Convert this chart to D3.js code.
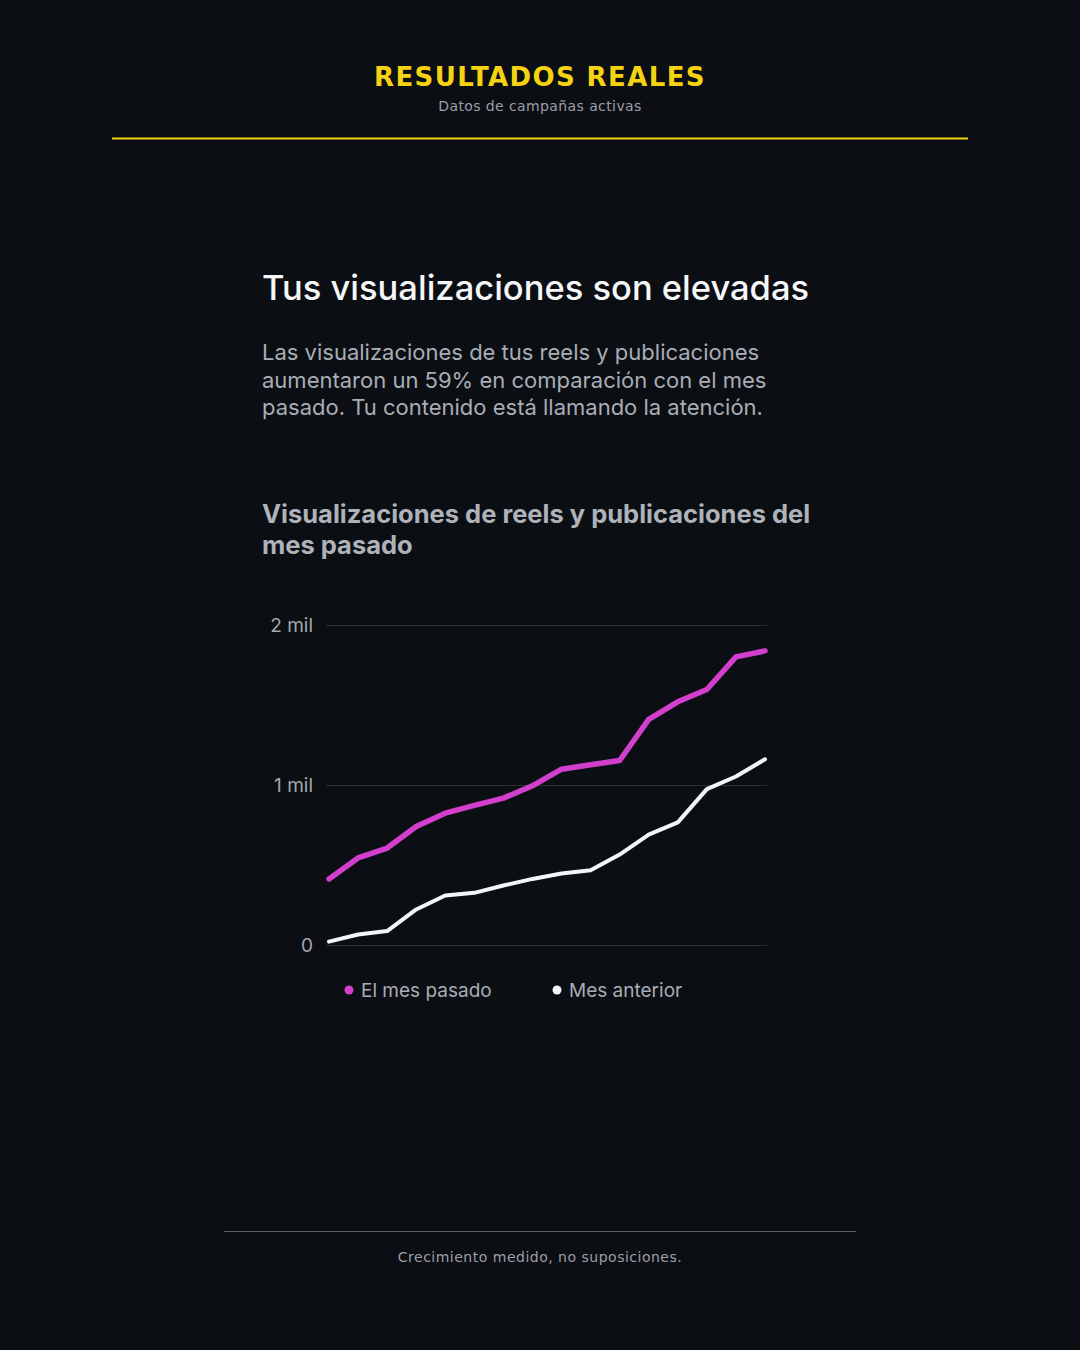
<!DOCTYPE html>
<html>
<head>
<meta charset="utf-8">
<script src="https://cdn.jsdelivr.net/npm/d3@7"></script>
<style>
  html, body { margin: 0; padding: 0; background: #0b0e13; }
  svg { display: block; }
</style>
</head>
<body>
<div id="chart"></div>
<script>
// data (views per day, last month vs previous month)
const days = d3.range(1, 17)
const lastMonth = [413, 544, 606, 741, 824, 873, 918, 995, 1099, 1126, 1153, 1410, 1520, 1597, 1801, 1838]
const prevMonth = [21, 66, 87, 222, 309, 326, 372, 413, 447, 467, 565, 690, 766, 974, 1053, 1161]
const yTicks = [0, 1000, 2000]
const yTickLabels = ["0", "1 mil", "2 mil"]
const seriesNames = ["El mes pasado", "Mes anterior"]
const seriesColors = ["#d23fcc", "#f4f5f7"]

const W = 1080, H = 1350
const sans = "Inter, Roboto, 'Noto Sans', sans-serif"

const svg = d3.select("#chart").append("svg")
  .attr("width", W)
  .attr("height", H)

svg.append("rect").attr("width", W).attr("height", H).attr("fill", "#0b0e13")

// header
svg.append("text")
  .attr("x", W / 2).attr("y", 86)
  .attr("text-anchor", "middle")
  .attr("font-family", "'DejaVu Sans', sans-serif")
  .attr("font-weight", "bold")
  .attr("font-size", 26)
  .attr("letter-spacing", 1.4)
  .attr("fill", "#f5d312")
  .text("RESULTADOS REALES")

svg.append("text")
  .attr("x", W / 2).attr("y", 111)
  .attr("text-anchor", "middle")
  .attr("font-family", "'DejaVu Sans', sans-serif")
  .attr("font-size", 14)
  .attr("letter-spacing", 0.4)
  .attr("fill", "#9b9fa7")
  .text("Datos de campañas activas")

svg.append("line")
  .attr("x1", 112).attr("x2", 968)
  .attr("y1", 138.5).attr("y2", 138.5)
  .attr("stroke", "#f5d312").attr("stroke-width", 2)

// card texts
svg.append("text")
  .attr("x", 262).attr("y", 300)
  .attr("font-family", sans)
  .attr("font-size", 34.5)
  .attr("font-weight", 500)
  .attr("fill", "#f6f7f9")
  .text("Tus visualizaciones son elevadas")

const para = [
  "Las visualizaciones de tus reels y publicaciones",
  "aumentaron un 59% en comparación con el mes",
  "pasado. Tu contenido está llamando la atención."
]
svg.append("g").selectAll("text")
  .data(para)
  .join("text")
  .attr("x", 262)
  .attr("y", (d, i) => 360 + i * 27.5)
  .attr("font-family", sans)
  .attr("font-size", 22)
  .attr("fill", "#a9adb5")
  .text(d => d)

const chartTitle = ["Visualizaciones de reels y publicaciones del", "mes pasado"]
svg.append("g").selectAll("text")
  .data(chartTitle)
  .join("text")
  .attr("x", 262)
  .attr("y", (d, i) => 523 + i * 31)
  .attr("font-family", sans)
  .attr("font-size", 25.5)
  .attr("font-weight", 650)
  .attr("fill", "#aeb2ba")
  .text(d => d)

// chart
const x = d3.scaleLinear()
  .domain(d3.extent(days))
  .range([329, 765])

const y = d3.scaleLinear()
  .domain([0, 2000])
  .range([945, 625])

const yAxis = svg.append("g")
  .attr("transform", "translate(326,0)")
  .call(d3.axisLeft(y).tickValues(yTicks)
    .tickSize(-441)
    .tickPadding(13)
    .tickFormat((d, i) => yTickLabels[i]))

yAxis.select(".domain").remove()
yAxis.selectAll(".tick line")
  .attr("stroke", "#2a2e35")
  .attr("stroke-width", 1.2)
yAxis.selectAll(".tick text")
  .attr("font-family", sans)
  .attr("font-size", 19)
  .attr("fill", "#a3a7ae")

const line = d3.line()
  .x((d, i) => x(days[i]))
  .y(d => y(d))

svg.append("path")
  .datum(prevMonth)
  .attr("d", line)
  .attr("fill", "none")
  .attr("stroke", seriesColors[1])
  .attr("stroke-width", 4)
  .attr("stroke-linejoin", "round")
  .attr("stroke-linecap", "round")

svg.append("path")
  .datum(lastMonth)
  .attr("d", line)
  .attr("fill", "none")
  .attr("stroke", seriesColors[0])
  .attr("stroke-width", 5.5)
  .attr("stroke-linejoin", "round")
  .attr("stroke-linecap", "round")

// legend
const legendX = [349, 557]
const legend = svg.append("g").selectAll("g")
  .data(seriesNames)
  .join("g")
  .attr("transform", (d, i) => `translate(${legendX[i]},990)`)

legend.append("circle")
  .attr("r", 4.5)
  .attr("fill", (d, i) => seriesColors[i])

legend.append("text")
  .attr("x", 12)
  .attr("y", 7)
  .attr("font-family", sans)
  .attr("font-size", 19)
  .attr("fill", "#a9adb5")
  .text(d => d)

// footer
svg.append("line")
  .attr("x1", 224).attr("x2", 856)
  .attr("y1", 1231.5).attr("y2", 1231.5)
  .attr("stroke", "#5c6067").attr("stroke-width", 1)

svg.append("text")
  .attr("x", W / 2).attr("y", 1262)
  .attr("text-anchor", "middle")
  .attr("font-family", "'DejaVu Sans', sans-serif")
  .attr("font-size", 14)
  .attr("letter-spacing", 0.5)
  .attr("fill", "#9b9fa7")
  .text("Crecimiento medido, no suposiciones.")
</script>
</body>
</html>
